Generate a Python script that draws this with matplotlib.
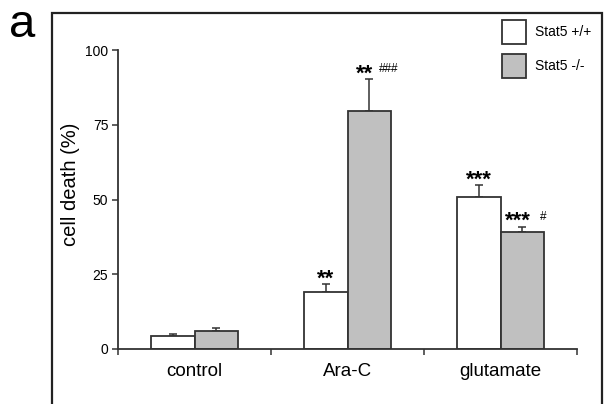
import matplotlib
matplotlib.use("Agg")
import matplotlib.pyplot as plt
from matplotlib.patches import Patch, Rectangle
import numpy as np

plt.rcParams['font.family'] = ['Liberation Sans', 'DejaVu Sans']

# data
categories = ['control', 'Ara-C', 'glutamate']
wt_mean = [4.4, 19.0, 50.9]
wt_err = [0.7, 2.6, 3.8]
ko_mean = [6.1, 79.6, 39.2]
ko_err = [0.8, 10.6, 1.7]
wt_stars = ['', '**', '***']
ko_stars = ['', '**', '***']
ko_hash = ['', '###', '#']
legend_labels = ['Stat5 +/+', 'Stat5 -/-']

W, H = 605, 404
fig = plt.figure(figsize=(W / 100, H / 100), dpi=100)
ax = fig.add_axes([118 / W, 1 - 349 / H, (577 - 118) / W, (349 - 50) / H])

edge = '#333333'
gray = '#c0c0c0'
bw = 0.284
x = np.arange(len(categories))

ax.bar(x - bw / 2, wt_mean, bw, color='white', edgecolor=edge, linewidth=1.3, zorder=2)
ax.bar(x + bw / 2, ko_mean, bw, color=gray, edgecolor=edge, linewidth=1.3, zorder=2)
ax.errorbar(x - bw / 2, wt_mean, yerr=[np.zeros(3), wt_err], fmt='none',
            ecolor=edge, elinewidth=1.1, capsize=3, capthick=1.1, zorder=1)
ax.errorbar(x + bw / 2, ko_mean, yerr=[np.zeros(3), ko_err], fmt='none',
            ecolor=edge, elinewidth=1.1, capsize=3, capthick=1.1, zorder=1)

# significance marks
for i in range(len(categories)):
    if wt_stars[i]:
        ax.text(x[i] - bw / 2, wt_mean[i] + wt_err[i] - 0.1, wt_stars[i],
                ha='center', va='baseline', fontsize=16, fontweight='bold')
    if ko_stars[i]:
        xs = x[i] + bw / 2
        ax.text(xs - 0.03, ko_mean[i] + ko_err[i] - 0.1, ko_stars[i],
                ha='center', va='baseline', fontsize=16, fontweight='bold')
        off = 0.065 if len(ko_stars[i]) == 2 else 0.115
        ax.text(xs + off, ko_mean[i] + ko_err[i] + 2.4, ko_hash[i],
                ha='left', va='baseline', fontsize=8.5)

ax.set_xlim(-0.5, 2.5)
ax.set_ylim(0, 100)
for s in ['top', 'right']:
    ax.spines[s].set_visible(False)
ax.spines['left'].set_bounds(0, 100)
ax.spines['left'].set_linewidth(1.3)
ax.spines['bottom'].set_linewidth(1.3)
ax.spines['left'].set_color(edge)
ax.spines['bottom'].set_color(edge)

ax.set_yticks([0, 25, 50, 75, 100])
ax.tick_params(axis='y', length=4, width=1.1, labelsize=10, pad=3, color=edge)
ax.set_xticks([-0.5, 0.5, 1.5, 2.5])
ax.set_xticklabels([])
ax.set_xticks(x, minor=True)
ax.set_xticklabels(categories, minor=True)
ax.tick_params(axis='x', which='major', length=4, width=1.1, color=edge)
ax.tick_params(axis='x', which='minor', length=0, labelsize=13.5, pad=10)

fig.text(70 / W, 1 - 184 / H, 'cell death (%)', rotation=90, ha='center',
         va='center', fontsize=14.5)
fig.text(9 / W, 1 - 37 / H, 'a', ha='left', va='baseline', fontsize=34)

handles = [Patch(facecolor='white', edgecolor=edge, linewidth=1.3),
           Patch(facecolor=gray, edgecolor=edge, linewidth=1.3)]
fig.legend(handles, legend_labels, loc='upper left',
           bbox_to_anchor=(502 / W, 1 - 20 / H), frameon=False, fontsize=10,
           handlelength=1.75, handleheight=2.3, handletextpad=0.6,
           labelspacing=0.7, borderpad=0, borderaxespad=0)

# outer frame
fig.patches.append(Rectangle((52 / W, -0.05), (602 - 52) / W, 1.05 - 13 / H,
                             transform=fig.transFigure, fill=False,
                             edgecolor='#222222', linewidth=1.6))

fig.savefig('out.png', dpi=100)
